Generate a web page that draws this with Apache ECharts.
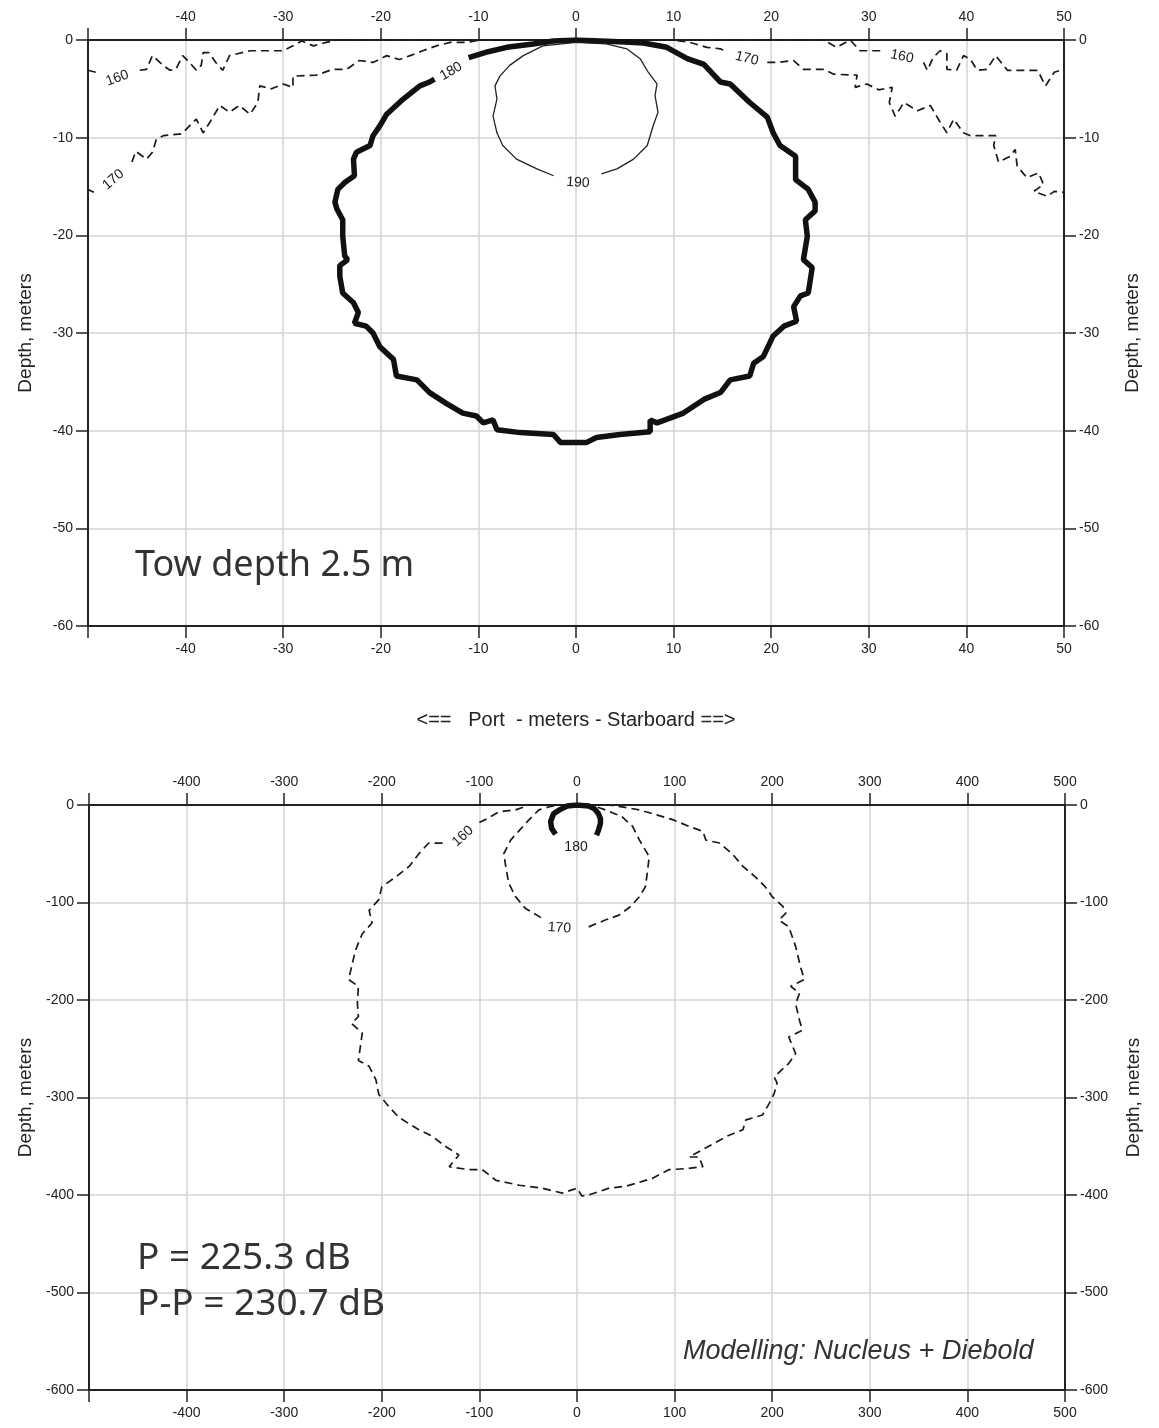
<!DOCTYPE html>
<html>
<head>
<meta charset="utf-8">
<script src="https://cdn.jsdelivr.net/npm/echarts@6/dist/echarts.min.js"></script>
<style>
  html, body { margin: 0; background: #fff; }
  #chart { width: 1159px; height: 1428px; }
</style>
</head>
<body>
<div id="chart"></div>
<script>
// ---- upper panel (tow depth 2.5 m), metres ----
// each contour is a list of segments, broken where the level label sits
var top160 = [
  [[-50, -3.1], [-49.2, -3.3]],
  [[-44.7, -3.1], [-44.0, -3.0], [-43.4, -1.6], [-42.3, -2.6], [-41.6, -3.1], [-41.0, -3.0], [-40.3, -1.6],
   [-39.6, -2.3], [-38.9, -3.1], [-38.4, -2.6], [-38.2, -1.3], [-37.6, -1.3], [-36.9, -2.3], [-36.2, -3.1],
   [-35.5, -1.6], [-33.4, -1.1], [-30.0, -1.1], [-29.0, -0.6], [-28.1, -0.1], [-26.9, -0.6], [-25.6, -0.25],
   [-24.5, 0], [25.4, 0], [26.7, -0.75], [28.1, 0], [29.1, -1.1], [31.3, -1.1]],
  [[35.6, -2.3], [36.0, -3.1], [36.6, -1.8], [37.3, -1.1], [38.0, -1.4], [38.0, -3.0], [39.0, -3.1],
   [39.7, -1.6], [40.4, -1.95], [41.1, -3.1], [42.1, -3.0], [43.0, -1.6], [43.8, -2.6], [44.2, -3.1],
   [47.3, -3.1], [48.1, -4.7], [49.0, -3.3], [50, -3.0]]
];
var top170 = [
  [[-50, -15.3], [-49.4, -15.6]],
  [[-45.5, -12.5], [-45.1, -11.4], [-44.0, -12.2], [-43.4, -11.5], [-43.0, -10.2], [-42.3, -9.8], [-40.4, -9.6],
   [-39.6, -8.8], [-38.9, -8.1], [-38.2, -9.5], [-37.5, -8.4], [-36.5, -6.7], [-35.5, -7.4], [-34.5, -6.7],
   [-33.4, -7.6], [-32.6, -6.4], [-32.4, -4.7], [-31.2, -5.0], [-30.0, -4.5], [-29.0, -4.85], [-29.0, -3.7],
   [-26.6, -3.6], [-24.9, -3.0], [-23.5, -3.0], [-22.2, -2.1], [-20.8, -2.3], [-19.4, -1.6], [-18.1, -2.0],
   [-17.0, -1.6], [-15.7, -1.1], [-14.3, -0.6], [-12.9, -0.25], [-11.2, -0.25], [-9.8, 0], [10, 0],
   [11.7, -0.25], [13.4, -0.75], [14.8, -0.9], [15.4, -1.2]],
  [[19.6, -2.3], [20.6, -2.3], [22.3, -2.1], [23.3, -3.0], [25.4, -3.0], [26.4, -3.5], [28.8, -3.6],
   [28.6, -4.85], [29.8, -4.5], [31.0, -5.1], [32.4, -4.85], [32.1, -6.4], [32.7, -7.8], [33.6, -6.4],
   [35.0, -7.25], [36.3, -6.7], [37.3, -8.4], [38.0, -9.5], [38.7, -8.1], [39.7, -9.5], [40.4, -9.8],
   [43.0, -9.8], [42.8, -10.8], [43.3, -12.5], [44.5, -11.9], [45.0, -11.2], [45.2, -12.9], [46.2, -14.1],
   [47.4, -13.6], [47.9, -14.8], [46.9, -15.5], [48.3, -16.0], [49.0, -15.5], [50, -15.6], [50, -17.0]]
];
var top180 = [
  [[-11.0, -1.8], [-9.0, -1.2], [-7.1, -0.75], [-4.4, -0.4], [-2.3, -0.1], [0, 0], [2.5, -0.1], [5, -0.2],
   [6.9, -0.3], [9.3, -0.75], [11.4, -1.9], [13.1, -2.5], [14.8, -4.3], [15.8, -4.5], [17.8, -6.4],
   [19.6, -7.9], [20.2, -9.5], [20.9, -10.8], [22.5, -11.9], [22.5, -14.3], [23.8, -15.3], [24.5, -16.6],
   [24.5, -17.5], [23.5, -18.4], [23.7, -20.1], [23.3, -22.5], [24.2, -23.3], [23.8, -25.9], [23.0, -26.2],
   [22.3, -27.3], [22.6, -28.8], [21.3, -29.3], [20.2, -30.3], [19.2, -32.4], [18.2, -33.1], [17.8, -34.4],
   [15.8, -34.8], [14.8, -36.1], [13.1, -36.8], [11.0, -38.2], [8.3, -39.2], [7.6, -38.9], [7.6, -40.1],
   [4.5, -40.4], [2.1, -40.7], [1.1, -41.2], [-1.6, -41.2], [-2.3, -40.4], [-5.7, -40.2], [-8.1, -39.9],
   [-8.5, -38.9], [-9.5, -39.2], [-10.2, -38.5], [-11.6, -38.2], [-13.3, -37.2], [-15.0, -36.1],
   [-16.3, -34.8], [-18.4, -34.4], [-18.7, -32.7], [-20.1, -31.4], [-20.8, -30.0], [-21.5, -29.3],
   [-22.7, -29.0], [-22.3, -27.9], [-22.8, -26.9], [-23.9, -25.9], [-24.2, -24.2], [-24.2, -23.1],
   [-23.4, -22.5], [-23.7, -22.1], [-23.9, -20.1], [-23.9, -18.4], [-24.5, -17.3], [-24.7, -16.6],
   [-24.4, -15.3], [-23.7, -14.6], [-22.7, -13.9], [-22.8, -12.2], [-22.5, -11.5], [-21.1, -10.8],
   [-20.8, -9.8], [-20.1, -8.8], [-19.4, -7.6], [-17.7, -6.05], [-16.0, -4.7], [-15.0, -4.3], [-14.5, -4.0]]
];
var top190 = [
  [[2.6, -13.7], [4.2, -13.2], [5.9, -12.2], [7.3, -10.8], [7.9, -8.8], [8.4, -7.4], [8.1, -5.7], [8.3, -4.5],
   [7.4, -3.3], [6.6, -1.95], [5.2, -0.9], [3.1, -0.4], [0, -0.25], [-3.4, -0.6], [-5.4, -1.6], [-6.8, -2.6],
   [-7.8, -3.7], [-8.3, -4.7], [-8.1, -6.05], [-8.5, -7.8], [-8.1, -9.5], [-7.5, -10.8], [-6.1, -12.2],
   [-4.0, -13.2], [-2.3, -13.9]]
];
var topLabels = [[-47.0, -3.9, '160'], [-47.4, -14.3, '170'], [-12.8, -3.2, '180'], [0.2, -14.6, '190'],
                 [17.5, -1.9, '170'], [33.4, -1.7, '160']];
var topLabelAngles = [20, 40, 30, -4, -14, -12];

// ---- lower panel, metres ----
var bot160 = [
  [[-100, -18], [-94, -15], [-80, -7], [-63, -5], [-49, 0], [33, 0], [46, -2], [64, -5], [81, -10], [98, -15],
   [115, -22], [129, -27], [132, -36], [146, -39], [159, -50], [170, -63], [183, -74], [193, -84], [200, -94],
   [211, -104], [214, -111], [207, -118], [217, -125], [224, -145], [229, -166], [233, -179], [219, -186],
   [228, -193], [224, -204], [228, -221], [231, -231], [217, -238], [224, -255], [217, -265], [202, -279],
   [205, -285], [202, -296], [197, -306], [190, -318], [173, -323], [170, -333], [153, -340], [135, -350],
   [115, -361], [125, -361], [129, -371], [111, -373], [94, -374], [77, -383], [67, -386], [50, -391],
   [33, -393], [12, -400], [5, -401], [0, -393], [-15, -398], [-36, -393], [-59, -390], [-83, -385],
   [-97, -374], [-111, -374], [-131, -371], [-121, -359], [-135, -350], [-148, -340], [-162, -333],
   [-172, -327], [-183, -320], [-193, -309], [-203, -297], [-206, -282], [-213, -268], [-224, -262],
   [-222, -248], [-220, -234], [-231, -224], [-224, -217], [-225, -203], [-224, -186], [-234, -179],
   [-231, -166], [-227, -149], [-220, -132], [-210, -121], [-213, -108], [-203, -97], [-200, -84],
   [-186, -74], [-172, -63], [-162, -50], [-152, -39], [-137, -39]]
];
var bot170 = [
  [[12, -125], [29, -118], [43, -113], [55, -104], [64, -94], [70, -84], [72, -70], [74, -53], [64, -36],
   [57, -22], [46, -12], [29, -5], [15, 0], [-20, 0], [-29, -2], [-39, -5], [-49, -15], [-59, -26], [-68, -36],
   [-75, -50], [-73, -63], [-70, -80], [-63, -94], [-53, -106], [-36, -116]]
];
var bot180 = [
  [[-22, -30], [-26, -24], [-27, -17], [-24, -9], [-18, -5], [-10, -1], [0, 0], [12, -1], [18, -4], [22, -9],
   [24, -14], [24, -19], [22, -26], [20, -31]]
];
var botLabels = [[-117, -32, '160'], [-1, -43, '180'], [-18, -126, '170']];
var botLabelAngles = [42, 0, -4];

var INK = '#222';
var TICK_FONT = 'Liberation Sans';

function xAx(grid, pos, min, max, step, split, extra) {
  var ax = {
    type: 'value', gridIndex: grid, position: pos, min: min, max: max, interval: step,
    axisLine: { show: true, onZero: false, lineStyle: { color: INK, width: 2 } },
    axisTick: { show: true, length: 12, lineStyle: { color: INK, width: 1.5 } },
    axisLabel: { margin: 16, fontSize: 14, color: INK, fontFamily: TICK_FONT,
                 formatter: function (v) { return v === min ? '' : String(v); } },
    splitLine: { show: split, lineStyle: { color: '#d4d4d4', width: 1.5 } }
  };
  return Object.assign(ax, extra || {});
}

function yAx(grid, pos, min, step, split) {
  return {
    type: 'value', gridIndex: grid, position: pos, min: min, max: 0, interval: step,
    name: 'Depth, meters', nameLocation: 'middle', nameRotate: 90, nameGap: pos === 'left' ? 53 : 59,
    nameTextStyle: { fontSize: 19, color: INK, fontFamily: TICK_FONT },
    axisLine: { show: true, onZero: false, lineStyle: { color: INK, width: 2 } },
    axisTick: { show: true, length: 12, lineStyle: { color: INK, width: 1.5 } },
    axisLabel: { margin: 15, fontSize: 14, color: INK, fontFamily: TICK_FONT },
    splitLine: { show: split, lineStyle: { color: '#d4d4d4', width: 1.5 } }
  };
}

var series = [];
function addContour(segs, axis, style) {
  segs.forEach(function (seg) {
    series.push({
      type: 'line', xAxisIndex: axis, yAxisIndex: axis, data: seg,
      showSymbol: false, symbol: 'none', silent: true, z: 3,
      lineStyle: style
    });
  });
}
var dashed = { color: '#1a1a1a', width: 1.7, type: [8, 5] };
addContour(top160, 0, dashed);
addContour(top170, 0, dashed);
addContour(top180, 0, { color: '#111', width: 5.5 });
addContour(top190, 0, { color: INK, width: 1.3 });
addContour(bot160, 2, dashed);
addContour(bot170, 2, dashed);
addContour(bot180, 2, { color: '#111', width: 5.5 });

function addLabels(list, angles, axis) {
  series.push({
    type: 'scatter', xAxisIndex: axis, yAxisIndex: axis, symbolSize: 1, silent: true, z: 4,
    itemStyle: { color: 'rgba(0,0,0,0)' },
    label: { show: true, position: 'inside', formatter: '{b}', fontSize: 14, color: '#1a1a1a',
             fontFamily: TICK_FONT, textBorderWidth: 0, opacity: 1 },
    labelLayout: { hideOverlap: false },
    data: list.map(function (d, i) {
      return { name: d[2], value: [d[0], d[1]], label: { rotate: angles[i] } };
    })
  });
}
addLabels(topLabels, topLabelAngles, 0);
addLabels(botLabels, botLabelAngles, 2);

var chart = echarts.init(document.getElementById('chart'), null, { renderer: 'canvas' });
chart.setOption({
  animation: false,
  backgroundColor: '#fff',
  grid: [
    { left: 88, width: 976, top: 40, height: 586 },
    { left: 89, width: 976, top: 805, height: 585 }
  ],
  xAxis: [
    xAx(0, 'top', -50, 50, 10, true),
    xAx(0, 'bottom', -50, 50, 10, false, {
      name: '<==   Port  - meters - Starboard ==>', nameLocation: 'middle', nameGap: 84,
      nameTextStyle: { fontSize: 20, color: INK, fontFamily: TICK_FONT }
    }),
    xAx(1, 'top', -500, 500, 100, true),
    xAx(1, 'bottom', -500, 500, 100, false)
  ],
  yAxis: [
    yAx(0, 'left', -60, 10, true),
    yAx(0, 'right', -60, 10, false),
    yAx(1, 'left', -600, 100, true),
    yAx(1, 'right', -600, 100, false)
  ],
  graphic: [
    { type: 'text', left: 135, top: 548, z: 10,
      style: { text: 'Tow depth 2.5 m', fontSize: 36, fontFamily: 'Noto Sans', fill: '#333' } },
    { type: 'text', left: 137, top: 1240, z: 10,
      style: { text: 'P = 225.3 dB', fontSize: 37, fontFamily: 'Noto Sans', fill: '#333' } },
    { type: 'text', left: 137, top: 1286, z: 10,
      style: { text: 'P-P = 230.7 dB', fontSize: 37, fontFamily: 'Noto Sans', fill: '#333' } },
    { type: 'text', left: 683, top: 1338, z: 10,
      style: { text: 'Modelling: Nucleus + Diebold', fontSize: 27, fontStyle: 'italic',
               fontFamily: 'Liberation Sans', fill: '#333' } }
  ],
  series: series
});
</script>
</body>
</html>
